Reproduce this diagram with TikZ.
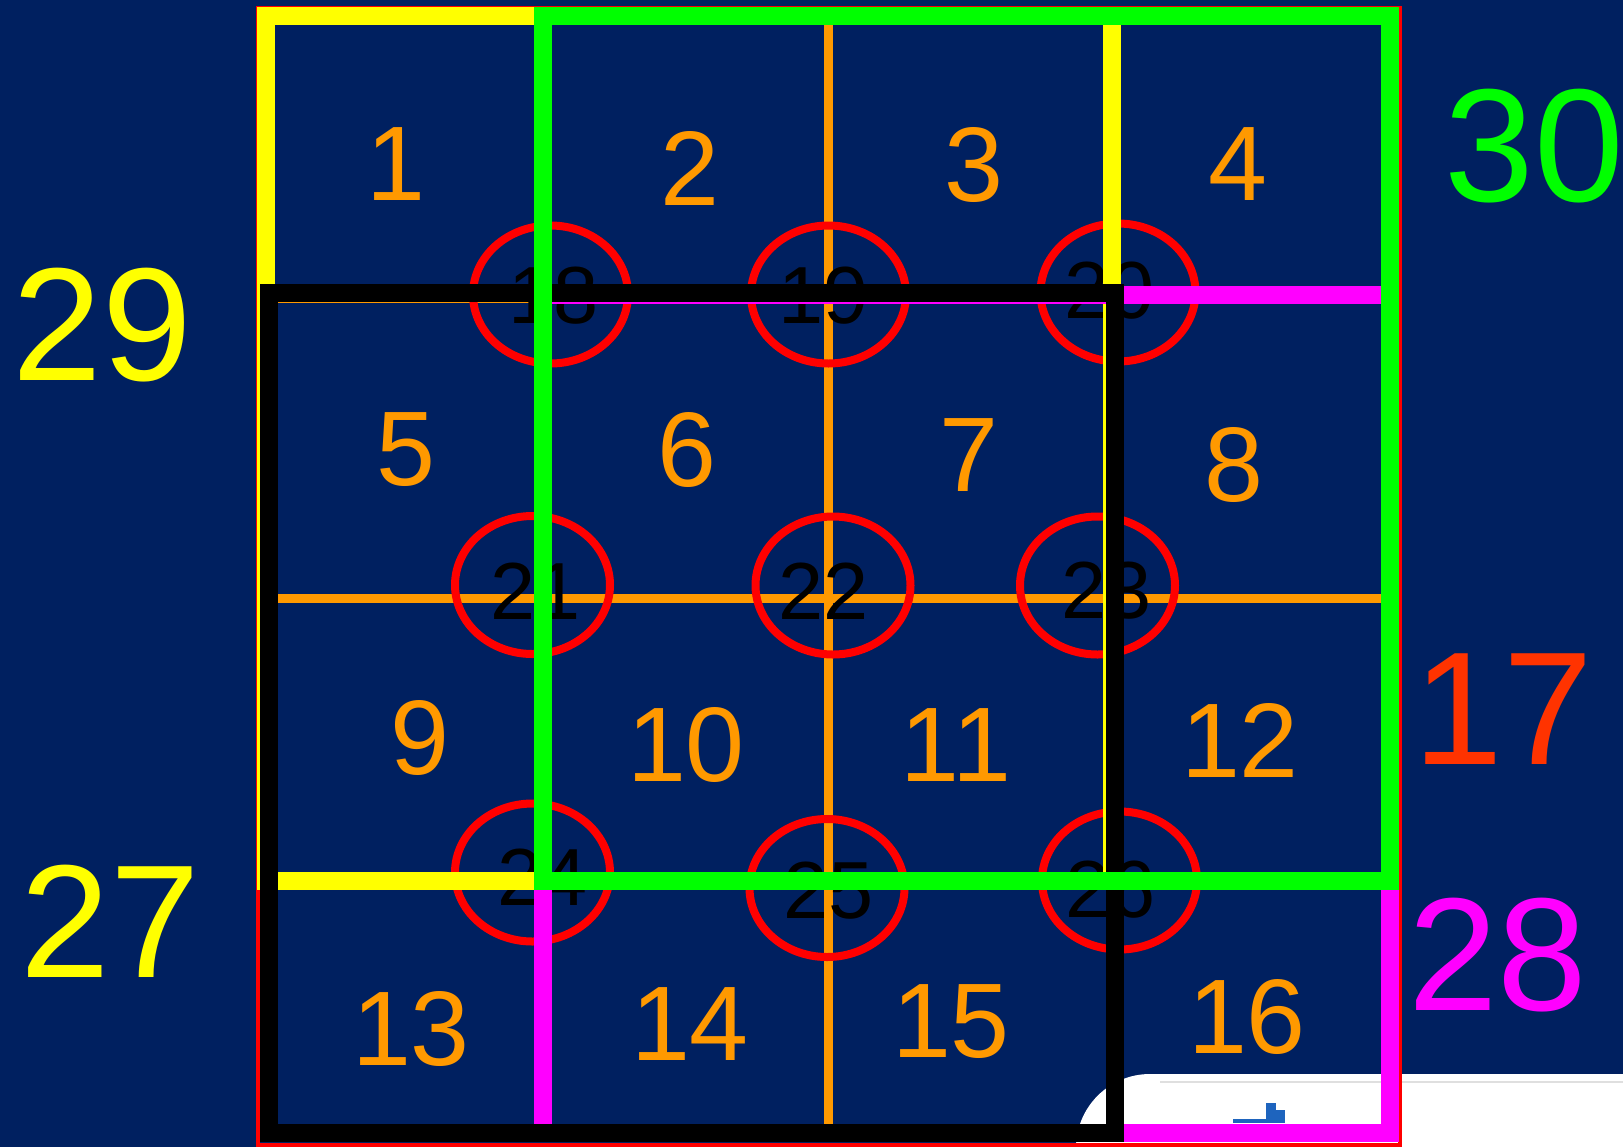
\documentclass[tikz,border=0pt]{standalone}
\usepackage{fontspec}
\setmainfont{Liberation Sans}
\usetikzlibrary{shapes.geometric}
\definecolor{bgblue}{RGB}{0,32,96}
\definecolor{gridorange}{RGB}{255,153,0}
\definecolor{lblred}{RGB}{255,51,0}
\definecolor{iconblue}{RGB}{30,100,190}
\definecolor{pureyellow}{RGB}{255,255,0}
\definecolor{puremagenta}{RGB}{255,0,255}
\definecolor{puregreen}{RGB}{0,255,0}
\definecolor{purered}{RGB}{255,0,0}
\begin{document}
\begin{tikzpicture}[x=0.5pt,y=-0.5pt,
  cellnum/.style={text=gridorange,inner sep=0pt,font=\fontsize{53pt}{53pt}\selectfont},
  ringnode/.style={ellipse,draw=purered,line width=4pt,minimum width=77.5pt,minimum height=69pt,inner sep=0pt},
  ringnum/.style={text=black,inner sep=0pt,font=\fontsize{40.5pt}{40.5pt}\selectfont},
  bignum/.style={inner sep=0pt,font=\fontsize{80.5pt}{80.5pt}\selectfont},
  frame/.style={line width=9pt},
  gridline/.style={gridorange,line width=4.5pt}]
\useasboundingbox (0,0) rectangle (1623,1147);
\fill[bgblue] (0,0) rectangle (1623,1147);
% screenshot remnant, bottom right
\begin{scope}
  \clip (0,0) rectangle (1623,1147);
  \fill[white,rounded corners=37pt] (1076,1260) rectangle (1700,1074);
\end{scope}
\draw[gray!25,line width=1pt] (1160,1082) -- (1623,1082);
\fill[iconblue] (1266,1103) rectangle (1276,1112);
\fill[iconblue] (1266,1110) rectangle (1285,1123);
\fill[iconblue] (1233,1119) rectangle (1266,1123);
% orange table lines
\draw[gridline] (268.5,598.5) -- (1390,598.5);
\draw[gridline] (828.5,16) -- (828.5,1132.5);
\draw[gridorange,line width=0.75pt] (277,302.5) -- (534,302.5);
% red rings
\node[ringnode] (r18) at (550.5,294.5) {};
\node[ringnode] (r19) at (828.5,294.5) {};
\node[ringnode] (r20) at (1118,292.5) {};
\node[ringnode] (r21) at (532.5,585) {};
\node[ringnode] (r22) at (833,585.5) {};
\node[ringnode] (r23) at (1097.5,585.5) {};
\node[ringnode] (r24) at (532.5,872.5) {};
\node[ringnode] (r25) at (827,888) {};
\node[ringnode] (r26) at (1119.5,880.5) {};
\node[ringnum] (t18) at (553.5,296) {18};
\node[ringnum] (t19) at (824,296) {19};
\node[ringnum] (t20) at (1110,291) {20};
\node[ringnum] (t21) at (535.5,591) {21};
\node[ringnum] (t22) at (823.5,591) {22};
\node[ringnum] (t23) at (1106.5,591) {23};
\node[ringnum] (t24) at (543,877.5) {24};
\node[ringnum] (t25) at (828.5,891) {25};
\node[ringnum] (t26) at (1110.5,889.5) {26};
% cell numbers
\node[cellnum] (n1) at (396,164.5) {1};
\node[cellnum] (n2) at (690,168) {2};
\node[cellnum] (n3) at (974,165) {3};
\node[cellnum] (n4) at (1238,164) {4};
\node[cellnum] (n5) at (406,450) {5};
\node[cellnum] (n6) at (687,450) {6};
\node[cellnum] (n7) at (969,455) {7};
\node[cellnum] (n8) at (1234,465) {8};
\node[cellnum] (n9) at (420,738) {9};
\node[cellnum] (n10) at (686,745) {10};
\node[cellnum] (n11) at (956,745) {11};
\node[cellnum] (n12) at (1240,740) {12};
\node[cellnum] (n13) at (411,1028.5) {13};
\node[cellnum] (n14) at (690,1024) {14};
\node[cellnum] (n15) at (951,1022) {15};
\node[cellnum] (n16) at (1247,1017) {16};
% frames
\draw[purered,line width=2pt] (258,8) rectangle (1399.5,1145);
\draw[frame,pureyellow] (265.5,16) rectangle (1112,880.5);
\draw[frame,puremagenta] (543,294.5) rectangle (1390,1132.5);
\draw[frame,black] (268.5,293) rectangle (1114.5,1132.5);
\draw[frame,puregreen] (543,16) rectangle (1390,880.5);
% outer labels
\node[bignum,text=pureyellow] (l29) at (102.5,325) {29};
\node[bignum,text=pureyellow] (l27) at (110.5,921) {27};
\node[bignum,text=puregreen] (l30) at (1534.5,146) {30};
\node[bignum,text=lblred] (l17) at (1503.5,709) {17};
\node[bignum,text=puremagenta] (l28) at (1498,955) {28};
\end{tikzpicture}
\end{document}
